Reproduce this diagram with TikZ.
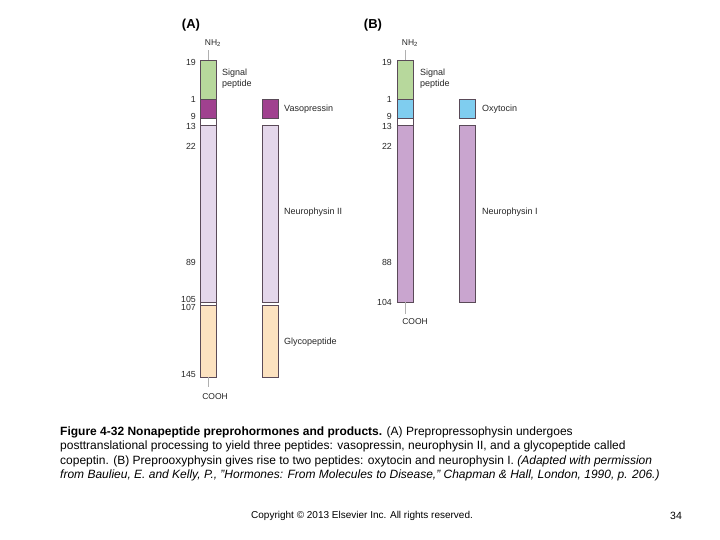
\documentclass[tikz,border=0pt]{standalone}
\usepackage{fontspec}
\setmainfont{Liberation Sans}
\definecolor{edgec}{HTML}{5A4A58}
\definecolor{sigc}{HTML}{B7D89C}
\definecolor{vasoc}{HTML}{A0418F}
\definecolor{neuIIc}{HTML}{E4D7EB}
\definecolor{glyc}{HTML}{FCE2C0}
\definecolor{oxyc}{HTML}{7FCDEF}
\definecolor{neuIc}{HTML}{C9A5CF}
\definecolor{thinc}{HTML}{B0B0B0}
\tikzset{
  seg/.style={draw=edgec, line width=0.6pt, minimum width=16pt, inner sep=0pt, outer sep=0pt, anchor=north west},
  num/.style={anchor=east, inner sep=0pt, font=\fontsize{8.8}{10}\selectfont, text=black!85},
  lab/.style={anchor=west, inner sep=0pt, font=\fontsize{9}{11}\selectfont, text=black!85, align=left},
  term/.style={inner sep=0pt, font=\fontsize{8.5}{10}\selectfont, text=black!85},
  panel/.style={inner sep=0pt, font=\fontsize{13}{15}\selectfont\bfseries},
  captext/.style={anchor=base west, inner sep=0pt, font=\fontsize{12}{14}\selectfont},
  thinline/.style={draw=thinc, line width=0.5pt}
}
\begin{document}
\begin{tikzpicture}[x=1pt,y=-1pt]
\useasboundingbox (0,0) rectangle (720,540);
% ---------- Panel A ----------
\node[panel] (pA) at (191,25) {(A)};
\node[term] (nh2A) at (213,43) {NH\textsubscript{2}};
\node[seg, fill=sigc, minimum height=39pt] (a1sig) at (200,60) {};
\node[seg, fill=vasoc, minimum height=19pt] (a1vas) at (200,99) {};
\node[seg, fill=white, minimum height=7pt] (a1g1) at (200,118) {};
\node[seg, fill=neuIIc, minimum height=177pt] (a1neu) at (200,125) {};
\node[seg, fill=white, minimum height=3pt] (a1g2) at (200,302) {};
\node[seg, fill=glyc, minimum height=72pt] (a1gly) at (200,305) {};
\node[term] (coohA) at (215,397) {COOH};
\coordinate (a1top) at (208,60);
\coordinate (a1bot) at (208,377);
\draw[thinline] (a1top) -- (208,50);
\draw[thinline] (a1bot) -- (208,387);

\node[seg, fill=vasoc, minimum height=19pt] (a2vas) at (262,99) {};
\node[seg, fill=neuIIc, minimum height=177pt] (a2neu) at (262,125) {};
\node[seg, fill=glyc, minimum height=72pt] (a2gly) at (262,305) {};

\node[num] at (196,62) {19};
\node[num] at (196,99) {1};
\node[num] at (196,116) {9};
\node[num] at (196,126) {13};
\node[num] at (196,146) {22};
\node[num] at (196,262.5) {89};
\node[num] at (196,299) {105};
\node[num] at (196,307) {107};
\node[num] at (196,375) {145};

\node[lab] (sigA) at (222,79) {Signal\\peptide};
\node[lab] (vasoL) at (284,109) {Vasopressin};
\node[lab] (neuIIL) at (284,212) {Neurophysin II};
\node[lab] (glyL) at (284,342) {Glycopeptide};

% ---------- Panel B ----------
\node[panel] (pB) at (373,25) {(B)};
\node[term] (nh2B) at (410,43) {NH\textsubscript{2}};
\node[seg, fill=sigc, minimum height=39pt] (b1sig) at (397,60) {};
\node[seg, fill=oxyc, minimum height=19pt] (b1oxy) at (397,99) {};
\node[seg, fill=white, minimum height=7pt] (b1g1) at (397,118) {};
\node[seg, fill=neuIc, minimum height=177pt] (b1neu) at (397,125) {};
\node[term] (coohB) at (415,322) {COOH};
\coordinate (b1top) at (405,60);
\coordinate (b1bot) at (405,302);
\draw[thinline] (b1top) -- (405,50);
\draw[thinline] (b1bot) -- (405,314);

\node[seg, fill=oxyc, minimum height=19pt] (b2oxy) at (459,99) {};
\node[seg, fill=neuIc, minimum height=177pt] (b2neu) at (459,125) {};

\node[num] at (392,62) {19};
\node[num] at (392,99) {1};
\node[num] at (392,116) {9};
\node[num] at (392,126) {13};
\node[num] at (392,146) {22};
\node[num] at (392,262) {88};
\node[num] at (392,302) {104};

\node[lab] (sigB) at (420,79) {Signal\\peptide};
\node[lab] (oxyL) at (482,109) {Oxytocin};
\node[lab] (neuIL) at (482,212) {Neurophysin I};

% ---------- Caption ----------
\node[captext] (c1) at (60,435) {\textbf{Figure 4-32 Nonapeptide preprohormones and products.} (A) Prepropressophysin undergoes};
\node[captext] (c2) at (60,449.5) {posttranslational processing to yield three peptides: vasopressin, neurophysin II, and a glycopeptide called};
\node[captext] (c3) at (60,464) {copeptin. (B) Preprooxyphysin gives rise to two peptides: oxytocin and neurophysin I. \textit{(Adapted with permission}};
\node[captext] (c4) at (60,478.5) {\textit{from Baulieu, E. and Kelly, P., "Hormones: From Molecules to Disease," Chapman \& Hall, London, 1990, p. 206.)}};

\node[anchor=base west, inner sep=0pt, font=\fontsize{10}{12}\selectfont] (copy) at (251,518.5) {Copyright © 2013 Elsevier Inc. All rights reserved.};
\node[anchor=base west, inner sep=0pt, font=\fontsize{10.5}{12}\selectfont] (pg) at (670,519) {34};
\end{tikzpicture}
\end{document}
